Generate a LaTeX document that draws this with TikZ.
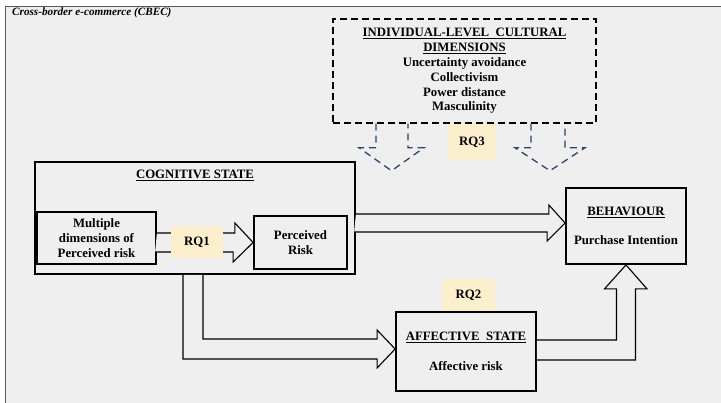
\documentclass[tikz,border=0pt]{standalone}
\usepackage{fontspec}
\setmainfont{Liberation Serif}
\usetikzlibrary{calc}

\definecolor{bggray}{RGB}{239,239,239}
\definecolor{rqyellow}{RGB}{252,239,205}
\definecolor{dashblue}{RGB}{44,68,102}

\tikzset{
  box/.style={draw, line width=1.8pt, fill=bggray, inner sep=2pt, align=center,
    font=\bfseries\fontsize{12.8}{14.5}\selectfont},
  rq/.style={fill=rqyellow, inner sep=0pt, font=\bfseries\fontsize{12.8}{14.5}\selectfont},
  hollow/.style={draw, line width=1.1pt, fill=bggray, line join=miter},
  dasharrow/.style={draw=dashblue, line width=1.3pt, dash pattern=on 7pt off 5pt},
}

\begin{document}
\begin{tikzpicture}[x=1pt,y=-1pt]
  \useasboundingbox (0,0) rectangle (721,403);
  \fill[bggray] (5,6.5) rectangle (721,403);
  \draw[gray!70!black, line width=0.8pt] (5,403) -- (5,6.5) -- (721,6.5);
  \node[anchor=west, inner sep=0pt, font=\bfseries\itshape\fontsize{11.2}{13}\selectfont] (cbec) at (12,13) {Cross-border e-commerce (CBEC)};

  % cultural dimensions
  \node[box, line width=1.5pt, dash pattern=on 7pt off 4pt, minimum width=263pt, minimum height=104pt,
    font=\bfseries\fontsize{12.8}{14.8}\selectfont] (cult) at (464.5,71)
    {\underline{INDIVIDUAL-LEVEL\ \ CULTURAL}\\ \underline{DIMENSIONS}\\ Uncertainty avoidance\\ Collectivism\\ Power distance\\ Masculinity};

  % states
  \node[box, minimum width=320pt, minimum height=112pt] (cog) at (195,218) {};
  \node[font=\bfseries\fontsize{12.8}{14.5}\selectfont] (cogT) at (195,175) {\underline{COGNITIVE\ STATE}};
  \node[box, minimum width=119pt, minimum height=52pt, font=\bfseries\fontsize{12.8}{15}\selectfont] (multi) at (96.5,238) {Multiple\\dimensions of\\Perceived risk};
  \node[box, minimum width=93pt, minimum height=53pt] (perc) at (300.5,242.5) {Perceived\\Risk};
  \node[box, minimum width=120pt, minimum height=76pt] (behav) at (626,226) {\underline{BEHAVIOUR}\\[15pt]Purchase Intention};
  \node[rq, minimum width=53pt, minimum height=32pt] (rq2) at (468.5,295) {RQ2};
  \node[box, minimum width=140pt, minimum height=79pt] (affect) at (466,351.5) {\underline{AFFECTIVE\ \ STATE}\\[15pt]Affective risk};

  \coordinate (bin) at ($(behav.west)+(0,-3)$);
  \coordinate (ain) at ($(affect.west)+(0,-2.5)$);

  % block arrows
  \draw[hollow] (multi.east |- perc.west) ++(0,-9.5) -- ++(78,0) -- ++(0,-10) -- (perc.west) -- ++(-20,19.5) -- ++(0,-10) -- ++(-78,0);
  \node[rq, minimum width=52pt, minimum height=32pt] (rq1) at (197,242) {RQ1};
  \draw[hollow] (cog.east |- bin) ++(0,-9) -- ++(193,0) -- ++(0,-9) -- (bin) -- ++(-18,18) -- ++(0,-9) -- ++(-193,0);
  \draw[hollow] ($(cog.south)+(8,0)$) |- ($(ain)+(-18,-10)$) -- ++(0,-9) -- (ain) -- ++(-18,19) -- ++(0,-9) -| ($(cog.south)+(-12,0)$);
  \draw[hollow] ($(affect.east)+(0,-11.5)$) -| ($(behav.south)+(-9.5,24)$) -- ++(-12,0) -- (behav.south) -- ++(21,24) -- ++(-11.5,0) |- ($(affect.east)+(0,8.5)$);

  % cultural arrows
  \draw[dasharrow] ($(cult.south)+(-88.5,0)$) -- ++(0,24) -- ++(-17,0) -- ++(32.5,23) -- ++(32.5,-23) -- ++(-16,0) -- ++(0,-24);
  \draw[dasharrow] ($(cult.south)+(66.5,0)$) -- ++(0,24) -- ++(-16,0) -- ++(35,23) -- ++(35,-23) -- ++(-20,0) -- ++(0,-24);
  \node[rq, minimum width=48pt, minimum height=36pt] (rq3) at (472,142) {RQ3};
\end{tikzpicture}
\end{document}
